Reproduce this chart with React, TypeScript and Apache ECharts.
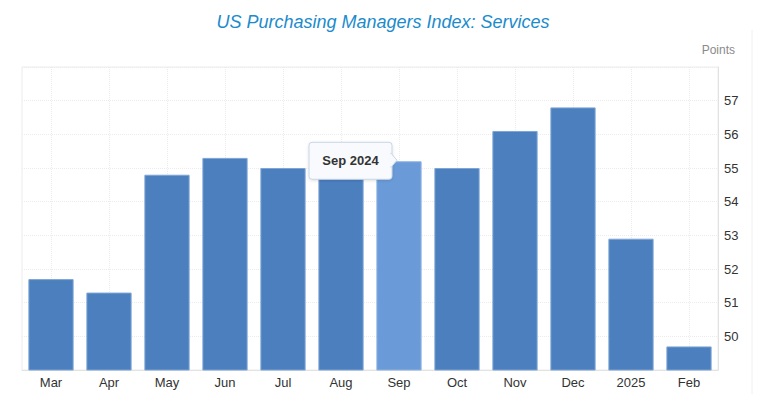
import React, { useEffect, useRef } from "react";
import * as echarts from "echarts";

const categories = ["Mar", "Apr", "May", "Jun", "Jul", "Aug", "Sep", "Oct", "Nov", "Dec", "2025", "Feb"];
const values = [51.7, 51.3, 54.8, 55.3, 55.0, 55.7, 55.2, 55.0, 56.1, 56.8, 52.9, 49.7];
const highlightIndex = 6;
const tooltipLabel = "Sep 2024";
const titleText = "US Purchasing Managers Index: Services";
const unitText = "Points";

export default function App() {
  const ref = useRef<HTMLDivElement>(null);
  useEffect(() => {
    if (!ref.current) return;
    const chart = echarts.init(ref.current, undefined, { renderer: "svg" });
    const font = "Liberation Sans, Arial, Helvetica, sans-serif";
    const frameLine = {
      type: "line",
      shape: { x1: 752, y1: 30, x2: 752, y2: 394 },
      style: { stroke: "#f0f0f0", lineWidth: 1 },
    };
    chart.setOption({
      animation: false,
      title: [
        {
          text: titleText,
          left: "center",
          top: 8,
          textStyle: { fontFamily: font, fontSize: 18, fontStyle: "italic", fontWeight: "normal", color: "#1b8bcc" },
        },
        {
          text: unitText,
          right: 26,
          top: 39,
          textStyle: { fontFamily: font, fontSize: 12, fontWeight: "normal", color: "#8a8a8a" },
        },
      ],
      grid: { left: 22, right: 48, top: 67, bottom: 24, show: true, borderColor: "#ececec", borderWidth: 1 },
      xAxis: {
        type: "category",
        data: categories,
        axisLine: { show: true, lineStyle: { color: "#e2e2e2" } },
        axisTick: { show: false },
        axisLabel: { fontFamily: font, fontSize: 13, color: "#333", margin: 6 },
        splitLine: { show: true, alignWithLabel: true, lineStyle: { color: "#ececec", type: "dotted" } },
      },
      yAxis: {
        type: "value",
        position: "right",
        min: 49,
        max: 58,
        interval: 1,
        axisLine: { show: true, lineStyle: { color: "#e2e2e2" } },
        axisTick: { show: false },
        axisLabel: {
          fontFamily: font,
          fontSize: 13,
          color: "#333",
          margin: 6,
          formatter: (v: number) => (v === 49 || v === 58 ? "" : String(v)),
        },
        splitLine: { show: true, lineStyle: { color: "#ececec", type: "dotted" } },
      },
      series: [
        {
          type: "bar",
          barCategoryGap: "22%",
          data: values.map((v, i) =>
            i === highlightIndex
              ? { value: v, itemStyle: { color: "#6a9bd8", borderColor: "#8fb4e3" } }
              : v
          ),
          itemStyle: { color: "#4b7fbe", borderColor: "#7ea5d6", borderWidth: 1 },
        },
      ],
      graphic: [frameLine],
    });

    const pt = chart.convertToPixel({ xAxisIndex: 0, yAxisIndex: 0 }, [categories[highlightIndex], values[highlightIndex]]) as number[];
    const tipX = pt[0] - 2;
    const tipY = pt[1] - 1;
    const boxW = 83;
    const boxH = 37;
    const boxRight = tipX - 5;
    const boxLeft = boxRight - boxW;
    const boxTop = tipY - 18;
    const fill = "rgb(248,250,253)";
    chart.setOption({
      graphic: [
        frameLine,
        {
          type: "rect",
          z: 100,
          zlevel: 1,
          shape: { x: boxLeft, y: boxTop, width: boxW, height: boxH, r: 3 },
          style: {
            fill,
            stroke: "#c9d6e6",
            lineWidth: 1,
            shadowBlur: 3,
            shadowColor: "rgba(0,0,0,0.12)",
            shadowOffsetY: 1,
          },
        },
        {
          type: "polygon",
          z: 101,
          zlevel: 1,
          shape: { points: [[boxRight - 1, tipY - 7], [tipX, tipY], [boxRight - 1, tipY + 7]] },
          style: { fill, stroke: "#c9d6e6", lineWidth: 1 },
        },
        {
          type: "line",
          z: 102,
          zlevel: 1,
          shape: { x1: boxRight - 1, y1: tipY - 6, x2: boxRight - 1, y2: tipY + 6 },
          style: { stroke: fill, lineWidth: 2 },
        },
        {
          type: "text",
          z: 103,
          zlevel: 1,
          style: {
            text: tooltipLabel,
            x: boxLeft + boxW / 2,
            y: boxTop + boxH / 2,
            align: "center",
            verticalAlign: "middle",
            fontFamily: font,
            fontSize: 13,
            fontWeight: "bold",
            fill: "#333",
          },
        },
      ],
    });
    return () => chart.dispose();
  }, []);
  return <div ref={ref} style={{ width: 766, height: 394, position: "absolute", left: 0, top: 0 }} />;
}
